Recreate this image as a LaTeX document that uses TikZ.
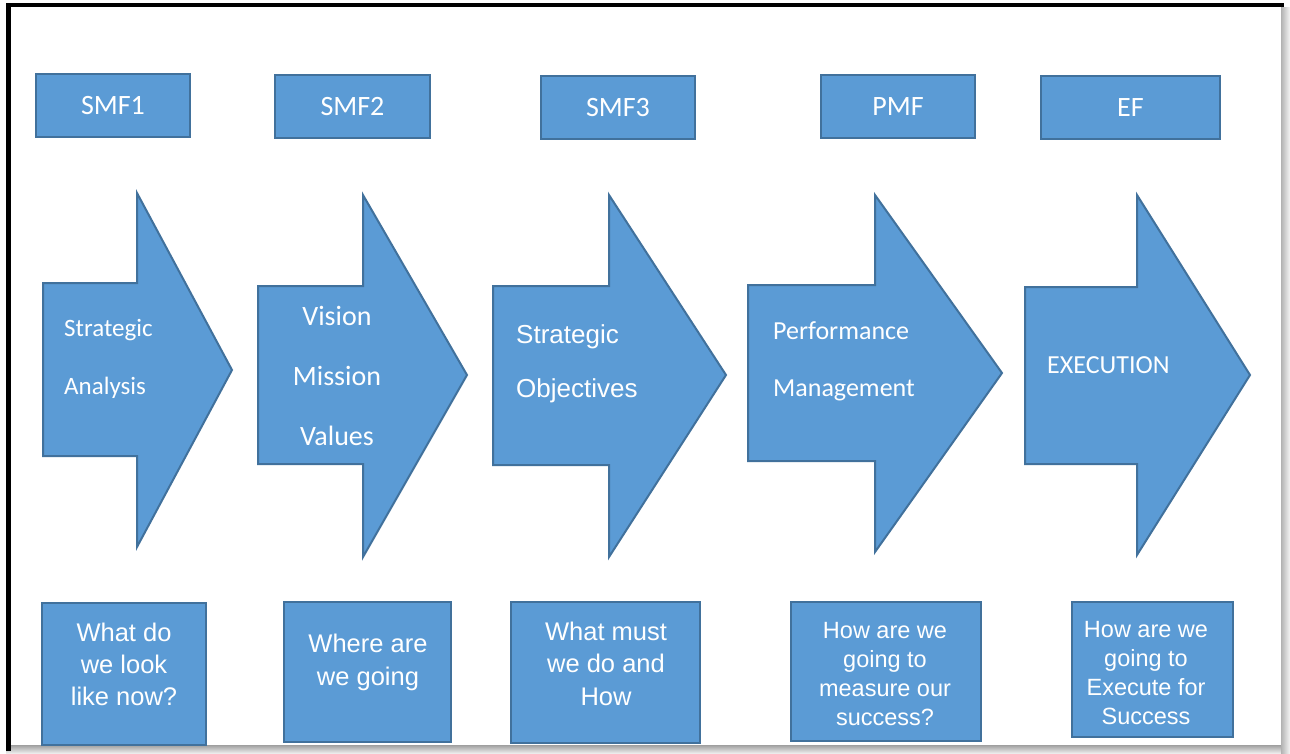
\documentclass[tikz,border=0pt]{standalone}
\usepackage{fontspec}
\setmainfont{Carlito}
\newfontfamily\arialf{Liberation Sans}
\definecolor{boxfill}{RGB}{91,155,213}
\definecolor{boxline}{RGB}{65,113,156}
\tikzset{
  bluebox/.style={fill=boxfill,draw=boxline,line width=2pt,inner sep=0pt},
  arrowshp/.style={fill=boxfill,draw=boxline,line width=2pt,line join=miter},
  toplbl/.style={bluebox,text=white,font={\fontsize{28}{34}\selectfont}},
  arrlbl/.style={text=white,inner sep=0pt},
  botlbl/.style={text=white,inner sep=0pt,align=center}
}
\begin{document}
\begin{tikzpicture}[x=1pt,y=-1pt]
\useasboundingbox (0,0) rectangle (1290,754);
% frame
\fill[white] (0,0) rectangle (1290,754);
\shade[top color=gray!75,bottom color=gray!8] (6,745) rectangle (1290,754);
\shade[left color=gray!60,right color=gray!8] (1281,8) rectangle (1290,754);
\fill[white] (11,7) rectangle (1281,745);
\fill[black] (6,3) rectangle (1284,7);
\fill[black] (6,3) rectangle (11,751);

% top boxes
\node[toplbl,minimum width=154pt,minimum height=63pt] (smf1) at (113,105.5) {SMF1};
\node[toplbl,minimum width=155pt,minimum height=63pt] (smf2) at (352.5,106.5) {SMF2};
\node[toplbl,minimum width=154pt,minimum height=63pt] (smf3) at (618,107.5) {SMF3};
\node[toplbl,minimum width=154pt,minimum height=63pt] (pmf) at (898,106.5) {PMF};
\node[toplbl,minimum width=179pt,minimum height=63pt] (ef) at (1130.5,107.5) {EF};

% arrows
\draw[arrowshp] (43,283) -- (137,283) -- (137,193) -- (232,370) -- (137,547) -- (137,456) -- (43,456) -- cycle;
\draw[arrowshp] (258,286) -- (363,286) -- (363,195) -- (467,375) -- (363,557) -- (363,464) -- (258,464) -- cycle;
\draw[arrowshp] (493,286) -- (609,286) -- (609,195) -- (726,375) -- (609,557) -- (609,465) -- (493,465) -- cycle;
\draw[arrowshp] (748,285) -- (875,285) -- (875,195) -- (1002,373) -- (875,552) -- (875,461) -- (748,461) -- cycle;
\draw[arrowshp] (1025,287) -- (1137,287) -- (1137,195) -- (1250,375) -- (1137,555) -- (1137,464) -- (1025,464) -- cycle;

\node[arrlbl,anchor=west,align=left,font={\fontsize{25}{58}\selectfont}] (a1) at (64,359) {Strategic\\Analysis};
\node[arrlbl,align=center,font={\fontsize{28}{60}\selectfont}] (a2) at (337,376) {Vision\\Mission\\Values};
\node[arrlbl,anchor=west,align=left,font={\arialf\fontsize{26}{54}\selectfont}] (a3) at (516,364) {Strategic\\Objectives};
\node[arrlbl,anchor=west,align=left,font={\fontsize{26}{57}\selectfont}] (a4) at (773,361.5) {Performance\\Management};
\node[arrlbl,anchor=west,font={\fontsize{26}{30}\selectfont}] (a5) at (1047,365) {EXECUTION};

% bottom boxes
\node[bluebox,minimum width=164pt,minimum height=142pt] (b1) at (124,674) {};
\node[bluebox,minimum width=167pt,minimum height=140pt] (b2) at (367.5,672) {};
\node[bluebox,minimum width=189pt,minimum height=141pt] (b3) at (605.5,672.5) {};
\node[bluebox,minimum width=190pt,minimum height=139pt] (b4) at (886,671.5) {};
\node[bluebox,minimum width=161pt,minimum height=135pt] (b5) at (1152.5,669.5) {};

\node[botlbl,font={\arialf\fontsize{25.5}{32}\selectfont}] (t1) at (124,664) {What do\\we look\\like now?};
\node[botlbl,font={\arialf\fontsize{25.5}{33}\selectfont}] (t2) at (368,662.5) {Where are\\we going};
\node[botlbl,font={\arialf\fontsize{25.5}{32.5}\selectfont}] (t3) at (606,663.5) {What must\\we do and\\How};
\node[botlbl,font={\arialf\fontsize{23.5}{29}\selectfont}] (t4) at (885,674) {How are we\\going to\\measure our\\success?};
\node[botlbl,font={\arialf\fontsize{23.5}{29}\selectfont}] (t5) at (1146,673.5) {How are we\\going to\\Execute for\\Success};
\end{tikzpicture}
\end{document}
